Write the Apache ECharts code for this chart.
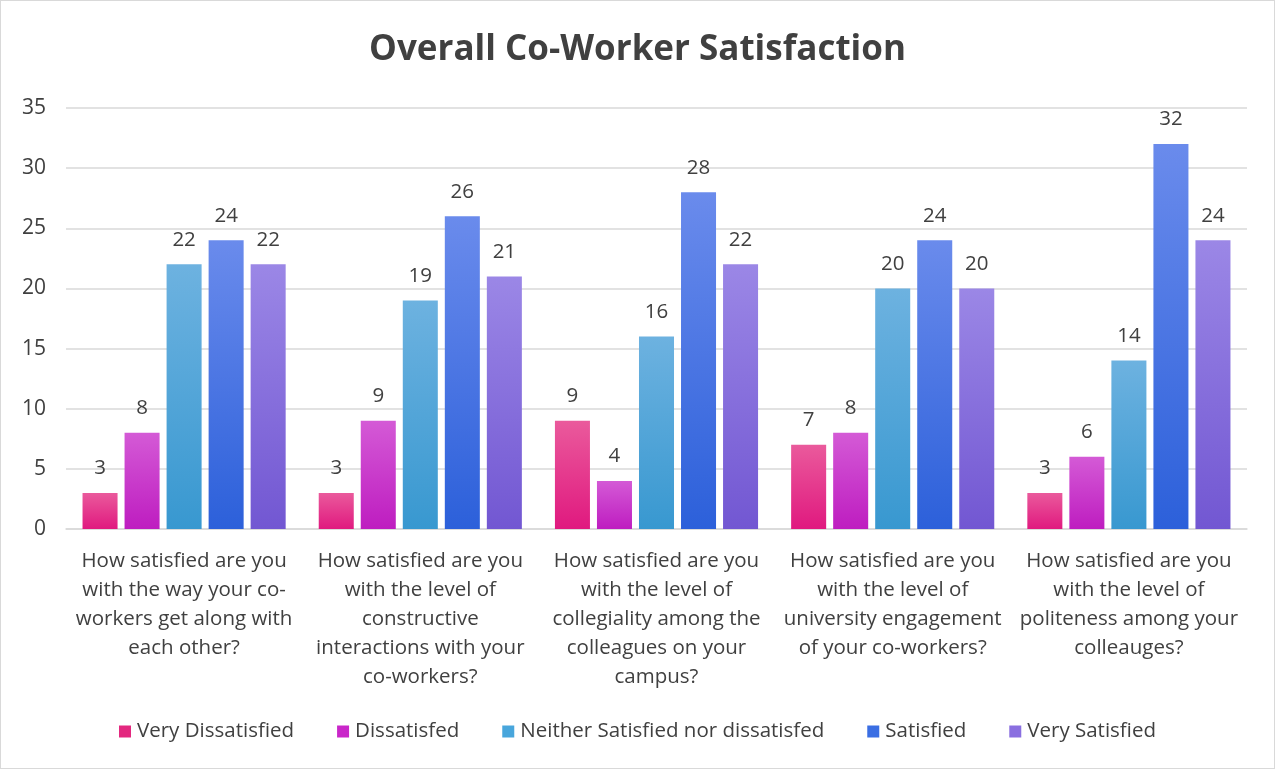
<!DOCTYPE html>
<html><head><meta charset="utf-8">
<script src="https://cdn.jsdelivr.net/npm/echarts@6/dist/echarts.min.js"></script>
<style>html,body{margin:0;padding:0;background:#fff}#c{width:1275px;height:769px;box-sizing:border-box;border:1px solid #d9d9d9}</style>
</head><body><div id="c"></div>
<script>
const categories = [
  "How satisfied are you\nwith the way your co-\nworkers get along with\neach other?",
  "How satisfied are you\nwith the level of\nconstructive\ninteractions with your\nco-workers?",
  "How satisfied are you\nwith the level of\ncollegiality among the\ncolleagues on your\ncampus?",
  "How satisfied are you\nwith the level of\nuniversity engagement\nof your co-workers?",
  "How satisfied are you\nwith the level of\npoliteness among your\ncolleauges?"
];
const seriesNames = ["Very Dissatisfied","Dissatisfed","Neither Satisfied nor dissatisfed","Satisfied","Very Satisfied"];
const veryDissatisfied = [3,3,9,7,3];
const dissatisfied = [8,9,4,8,6];
const neither = [22,19,16,20,14];
const satisfied = [24,26,28,24,32];
const verySatisfied = [22,21,22,20,24];
const yTicks = {min:0,max:35,interval:5};

const values = [veryDissatisfied,dissatisfied,neither,satisfied,verySatisfied];
const grads = [["#EA5A9C","#E0197F"],["#D45AD6","#BE1DC0"],["#6DB2E0","#3898D0"],["#6A8BEC","#2C60DA"],["#9B87E6","#7257D2"]];
const legendColors = ["#E3287F","#C926C9","#48A6DC","#3A6EE3","#8A6FE0"];
const font = "'Open Sans', 'Liberation Sans', sans-serif";
const chart = echarts.init(document.getElementById('c'));
chart.setOption({
  animation:false,
  title:{text:"Overall Co-Worker Satisfaction",left:'center',top:27,textStyle:{fontFamily:font,fontSize:35,fontWeight:'bold',color:'#404040'}},
  grid:{left:65,right:27,top:107,bottom:239,containLabel:false},
  legend:{bottom:21,left:'center',itemWidth:12,itemHeight:12,itemGap:43,icon:'rect',
    textStyle:{fontFamily:font,fontSize:20.5,color:'#404040',padding:[0,0,0,1]},
    data:seriesNames.map((n,i)=>({name:n,itemStyle:{color:legendColors[i]}}))},
  xAxis:{type:'category',data:categories,
    axisLine:{lineStyle:{color:'#d9d9d9',width:1.5}},axisTick:{show:false},
    axisLabel:{interval:0,fontFamily:font,fontSize:20.5,color:'#404040',lineHeight:29,margin:18,align:'center'}},
  yAxis:{type:'value',min:yTicks.min,max:yTicks.max,interval:yTicks.interval,
    axisLine:{show:false},axisTick:{show:false},
    splitLine:{lineStyle:{color:'#d9d9d9',width:1.5}},
    axisLabel:{fontFamily:font,fontSize:21,color:'#404040',margin:20}},
  series:values.map((v,i)=>({
    name:seriesNames[i],type:'bar',data:v,barGap:'20%',barCategoryGap:'14%',
    itemStyle:{color:new echarts.graphic.LinearGradient(0,0,0,1,[{offset:0,color:grads[i][0]},{offset:1,color:grads[i][1]}])},
    label:{show:true,position:'top',distance:14,fontFamily:font,fontSize:20.5,color:'#404040'}
  }))
});
</script></body></html>
